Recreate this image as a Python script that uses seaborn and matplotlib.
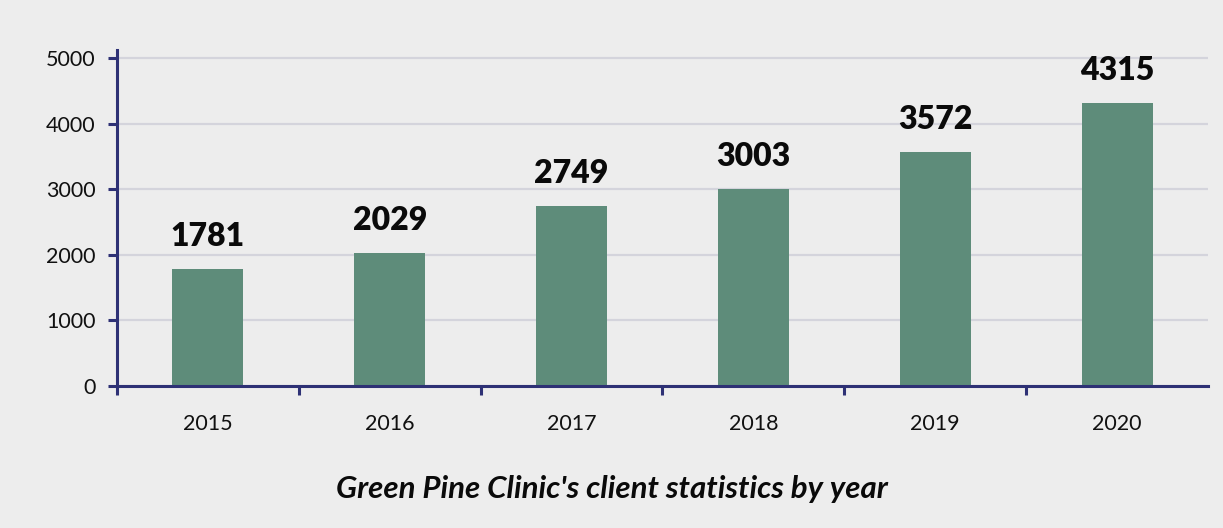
import matplotlib
matplotlib.use("Agg")
import matplotlib.pyplot as plt
import seaborn as sns
import pandas as pd
import numpy as np

years = ["2015", "2016", "2017", "2018", "2019", "2020"]
clients = [1781, 2029, 2749, 3003, 3572, 4315]
y_ticks = [0, 1000, 2000, 3000, 4000, 5000]
title = "Green Pine Clinic's client statistics by year"

BG = "#EDEDED"
BAR = "#5E8C7A"
NAVY = "#2E3175"
GRID = "#D4D4DC"

sns.set_theme(style="white")
plt.rcParams["font.family"] = ["Lato", "DejaVu Sans"]

df = pd.DataFrame({"year": years, "clients": clients})

fig = plt.figure(figsize=(12.23, 5.28), dpi=100, facecolor=BG)
ax = fig.add_axes([117 / 1223, 1 - 386 / 528, (1208 - 117) / 1223, (386 - 50) / 528])
ax.set_facecolor(BG)

sns.barplot(data=df, x="year", y="clients", color=BAR, width=0.39, ax=ax,
            saturation=1, zorder=3, linewidth=0, edgecolor=BAR)

ax.set_xlim(-0.5, len(years) - 0.5)
ax.set_ylim(0, 5120)
ax.set_yticks(y_ticks)
ax.set_yticklabels([str(v) for v in y_ticks])
ax.yaxis.grid(True, color=GRID, linewidth=1.6, zorder=0)
ax.set_axisbelow(True)

for s in ["top", "right"]:
    ax.spines[s].set_visible(False)
for s in ["left", "bottom"]:
    ax.spines[s].set_color(NAVY)
    ax.spines[s].set_linewidth(2.2)
    ax.spines[s].set_zorder(4)

ax.tick_params(axis="y", which="major", direction="out", length=6.5, width=2.2,
               color=NAVY, labelsize=15.5, pad=9, left=True)
ax.tick_params(axis="x", which="major", length=0, labelsize=15.5, pad=20)
ax.set_xticks(np.arange(-0.5, len(years) - 1, 1.0), minor=True)
ax.tick_params(axis="x", which="minor", direction="out", length=6.5, width=2.2,
               color=NAVY, bottom=True)
for lab in ax.get_xticklabels() + ax.get_yticklabels():
    lab.set_color("#111111")

ax.set_xlabel("")
ax.set_ylabel("")

ax.bar_label(ax.containers[0], labels=[str(v) for v in clients], padding=13,
             fontsize=23, fontweight="heavy", color="#0a0a0a")

fig.text(0.5, 1 - 498 / 528, title, ha="center", va="baseline", fontsize=22.5,
         fontstyle="italic", fontweight="bold", color="#0a0a0a")

fig.savefig("out.png", dpi=100, facecolor=BG)
